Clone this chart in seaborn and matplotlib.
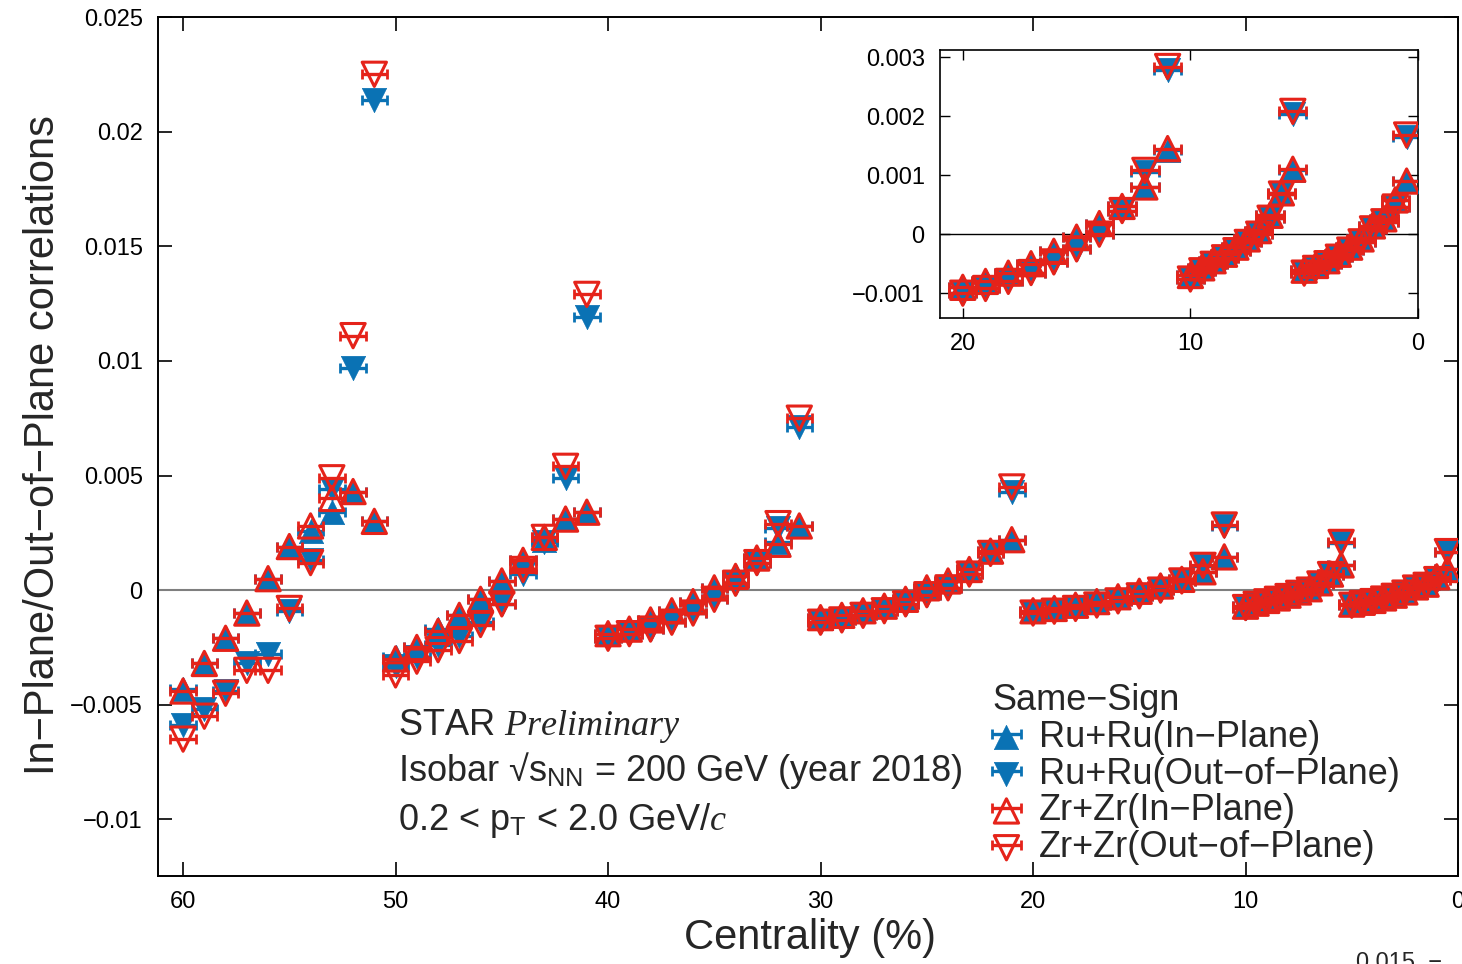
import numpy as np
import pandas as pd
import matplotlib
matplotlib.use("Agg")
import matplotlib.pyplot as plt
from matplotlib.container import ErrorbarContainer
from matplotlib.legend_handler import HandlerErrorbar
import seaborn as sns

# ---------------- data ----------------
centrality = [60, 59, 58, 57, 56, 55, 54, 53, 52, 51,
              50, 49, 48, 47, 46, 45, 44, 43, 42, 41,
              40, 39, 38, 37, 36, 35, 34, 33, 32, 31,
              30, 29, 28, 27, 26, 25, 24, 23, 22, 21,
              20, 19, 18, 17, 16, 15, 14, 13, 12, 11,
              10, 9.5, 9, 8.5, 8, 7.5, 7, 6.5, 6, 5.5,
              5, 4.5, 4, 3.5, 3, 2.5, 2, 1.5, 1, 0.5]

ru_in = [-0.0043, -0.0032, -0.0021, -0.0010, 0.0005, 0.0019, 0.0026, 0.0034, 0.0043, 0.0030,
         -0.0029, -0.0025, -0.0017, -0.0011, -0.0004, 0.0004, 0.0013, 0.0022, 0.0031, 0.0034,
         -0.0019, -0.0017, -0.0013, -0.0009, -0.0005, 0.0001, 0.0006, 0.0014, 0.0021, 0.0028,
         -0.0012, -0.0011, -0.0009, -0.0007, -0.0004, 0.0001, 0.0004, 0.0009, 0.0017, 0.0022,
         -0.00090, -0.00080, -0.00066, -0.00050, -0.00029, -0.00005, 0.00018, 0.00047, 0.00080, 0.00143,
         -0.00070, -0.00057, -0.00045, -0.00034, -0.00022, -0.00008, 0.00006, 0.00032, 0.00070, 0.00108,
         -0.00061, -0.00053, -0.00045, -0.00034, -0.00022, -0.00008, 0.00014, 0.00026, 0.00058, 0.00090]

zr_in = [-0.0044, -0.0032, -0.0021, -0.0010, 0.0005, 0.0019, 0.0028, 0.0040, 0.0043, 0.0030,
         -0.0030, -0.0025, -0.0018, -0.0011, -0.0004, 0.0004, 0.0013, 0.0023, 0.0031, 0.0034,
         -0.0019, -0.0017, -0.0013, -0.0009, -0.0005, 0.0001, 0.0006, 0.0014, 0.0020, 0.0028,
         -0.0012, -0.0011, -0.0009, -0.0007, -0.0004, 0.0001, 0.0004, 0.0009, 0.0017, 0.0022,
         -0.00090, -0.00080, -0.00066, -0.00050, -0.00029, -0.00005, 0.00018, 0.00047, 0.00080, 0.00145,
         -0.00070, -0.00057, -0.00045, -0.00034, -0.00022, -0.00008, 0.00006, 0.00032, 0.00070, 0.00110,
         -0.00061, -0.00053, -0.00045, -0.00034, -0.00022, -0.00008, 0.00014, 0.00026, 0.00058, 0.00090]

ru_out = [-0.0059, -0.0052, -0.0044, -0.0032, -0.0028, -0.0009, 0.0013, 0.0044, 0.0097, 0.0214,
          -0.0033, -0.0029, -0.0024, -0.0020, -0.0014, -0.0006, 0.0007, 0.0021, 0.0049, 0.0119,
          -0.0021, -0.0019, -0.0017, -0.0014, -0.0010, -0.0004, 0.0003, 0.0012, 0.0027, 0.0071,
          -0.0014, -0.0013, -0.0011, -0.0009, -0.0006, -0.0002, 0.0001, 0.0007, 0.0016, 0.0043,
          -0.00100, -0.00092, -0.00080, -0.00065, -0.00047, -0.00025, 0.00000, 0.00040, 0.00106, 0.00278,
          -0.00076, -0.00062, -0.00051, -0.00040, -0.00028, -0.00014, 0.00000, 0.00027, 0.00068, 0.00204,
          -0.00066, -0.00058, -0.00050, -0.00039, -0.00027, -0.00013, 0.00009, 0.00021, 0.00046, 0.00165]

zr_out = [-0.0065, -0.0055, -0.0045, -0.0035, -0.0035, -0.0008, 0.0012, 0.0049, 0.0111, 0.0225,
          -0.0037, -0.0031, -0.0026, -0.0022, -0.0015, -0.0006, 0.0009, 0.0023, 0.0054, 0.0129,
          -0.0021, -0.0019, -0.0017, -0.0014, -0.0010, -0.0004, 0.0003, 0.0012, 0.0029, 0.0075,
          -0.0014, -0.0013, -0.0011, -0.0009, -0.0006, -0.0002, 0.0001, 0.0007, 0.0016, 0.0045,
          -0.00100, -0.00092, -0.00080, -0.00065, -0.00047, -0.00025, 0.00000, 0.00040, 0.00108, 0.00284,
          -0.00076, -0.00062, -0.00051, -0.00040, -0.00028, -0.00014, 0.00000, 0.00027, 0.00068, 0.00208,
          -0.00066, -0.00058, -0.00050, -0.00039, -0.00027, -0.00013, 0.00009, 0.00021, 0.00046, 0.00168]

series_labels = ["Ru+Ru(In\u2212Plane)", "Ru+Ru(Out\u2212of\u2212Plane)",
                 "Zr+Zr(In\u2212Plane)", "Zr+Zr(Out\u2212of\u2212Plane)"]
main_xticks = [60, 50, 40, 30, 20, 10, 0]
main_yticks = [-0.01, -0.005, 0, 0.005, 0.01, 0.015, 0.02, 0.025]
main_ytick_labels = ["\u22120.01", "\u22120.005", "0", "0.005", "0.01", "0.015", "0.02", "0.025"]
inset_xticks = [20, 10, 0]
inset_yticks = [-0.001, 0, 0.001, 0.002, 0.003]
inset_ytick_labels = ["\u22120.001", "0", "0.001", "0.002", "0.003"]

# ---------------- style ----------------
sns.set_theme(style="ticks")
plt.rcParams["font.family"] = ["Liberation Sans", "DejaVu Sans"]
plt.rcParams["mathtext.fontset"] = "custom"
plt.rcParams["mathtext.rm"] = "Liberation Sans"
plt.rcParams["mathtext.it"] = "Liberation Serif:italic"
plt.rcParams["mathtext.bf"] = "Liberation Sans:bold"
plt.rcParams["axes.linewidth"] = 1.4

BLUE = "#0a72b4"
RED = "#e5231a"

frames = []
for lab, vals in zip(series_labels, [ru_in, ru_out, zr_in, zr_out]):
    frames.append(pd.DataFrame({"cent": centrality, "val": vals, "series": lab}))
df = pd.concat(frames, ignore_index=True)

styles = {
    series_labels[0]: dict(marker="^", color=BLUE, filled=True, z=3),
    series_labels[1]: dict(marker="v", color=BLUE, filled=True, z=3),
    series_labels[2]: dict(marker="^", color=RED, filled=False, z=5),
    series_labels[3]: dict(marker="v", color=RED, filled=False, z=5),
}

XERR = 0.6

fig = plt.figure(figsize=(14.62, 9.64), dpi=100)
ax = fig.add_axes([158 / 1462, 88 / 964, 1300 / 1462, 859 / 964])
ax_in = fig.add_axes([940 / 1462, 646 / 964, 478 / 1462, 268 / 964])


def draw(axis, data, msize):
    handles = []
    for lab in series_labels:
        st = styles[lab]
        d = data[data["series"] == lab]
        eb = axis.errorbar(d["cent"], d["val"], xerr=XERR, fmt="none",
                           ecolor=st["color"], elinewidth=2.4, capsize=3.5,
                           capthick=2.0, zorder=st["z"] - 1)
        if st["filled"]:
            sc = sns.scatterplot(data=d, x="cent", y="val", ax=axis, marker=st["marker"],
                                 s=msize ** 2, color=st["color"], edgecolor=st["color"],
                                 linewidth=0.5, zorder=st["z"], legend=False)
        else:
            sc = sns.scatterplot(data=d, x="cent", y="val", ax=axis, marker=st["marker"],
                                 s=msize ** 2, facecolors="none", edgecolor=st["color"],
                                 linewidth=2.2, zorder=st["z"], legend=False)
        handles.append((eb, sc.collections[-1]))
    return handles


handles = draw(ax, df, 17.5)
draw(ax_in, df[df["cent"] <= 20], 17.5)

# zero lines
ax.axhline(0, color="#7f7f7f", lw=1.5, zorder=1)
ax_in.axhline(0, color="black", lw=1.0, zorder=1)

# main axes
ax.set_xlim(61.18, 0)
ax.set_ylim(-0.01247, 0.025)
ax.set_xticks(main_xticks)
ax.set_xticklabels([str(t) for t in main_xticks])
ax.set_yticks(main_yticks)
ax.set_yticklabels(main_ytick_labels)
ax.tick_params(direction="in", length=10, width=1.2, top=True, right=True,
               labelsize=17, pad=11, colors="black")
ax.set_xlabel("Centrality (%)", fontsize=30)
ax.set_ylabel("In\u2212Plane/Out\u2212of\u2212Plane correlations", fontsize=30)
ax.xaxis.set_label_coords(0.5015, -0.049)
ax.yaxis.set_label_coords(-0.073, 0.502)
for sp in ax.spines.values():
    sp.set_visible(True)
    sp.set_color("black")

# inset axes
ax_in.set_xlim(21.0, 0)
ax_in.set_ylim(-0.00142, 0.00312)
ax_in.set_xticks(inset_xticks)
ax_in.set_xticklabels([str(t) for t in inset_xticks])
ax_in.set_yticks(inset_yticks)
ax_in.set_yticklabels(inset_ytick_labels)
ax_in.tick_params(direction="in", length=7, width=1.0, top=True, right=True,
                  labelsize=17, pad=11, colors="black")
ax_in.set_xlabel("")
ax_in.set_ylabel("")
for sp in ax_in.spines.values():
    sp.set_visible(True)
    sp.set_color("black")
    sp.set_linewidth(1.2)

# text block
ax.text(0.1846, 0.164, "STAR $\\mathit{Preliminary}$", transform=ax.transAxes,
        fontsize=26, va="baseline", ha="left")
ax.text(0.1846, 0.1106, "Isobar \u221as$_{\\mathrm{NN}}$ = 200 GeV (year 2018)",
        transform=ax.transAxes, fontsize=26, va="baseline", ha="left")
ax.text(0.1846, 0.0536, "0.2 < p$_{\\mathrm{T}}$ < 2.0 GeV/$\\mathit{c}$",
        transform=ax.transAxes, fontsize=26, va="baseline", ha="left")

# legend
leg = ax.legend(handles, series_labels, title="Same\u2212Sign", loc="upper left",
                bbox_to_anchor=((992 - 158) / 1300, (876 - 683) / 859),
                frameon=False, fontsize=26, title_fontsize=26,
                handlelength=0.8, handletextpad=0.5, labelspacing=0.05,
                borderpad=0.0, borderaxespad=0.0, alignment="left",
                handler_map={ErrorbarContainer: HandlerErrorbar(xerr_size=0.4)})

# partially visible label of the panel below
fig.text(1356 / 1462, 12 / 964, "0.015  \u2212", fontsize=17, va="top", ha="left")

fig.savefig("out.png", dpi=100)
